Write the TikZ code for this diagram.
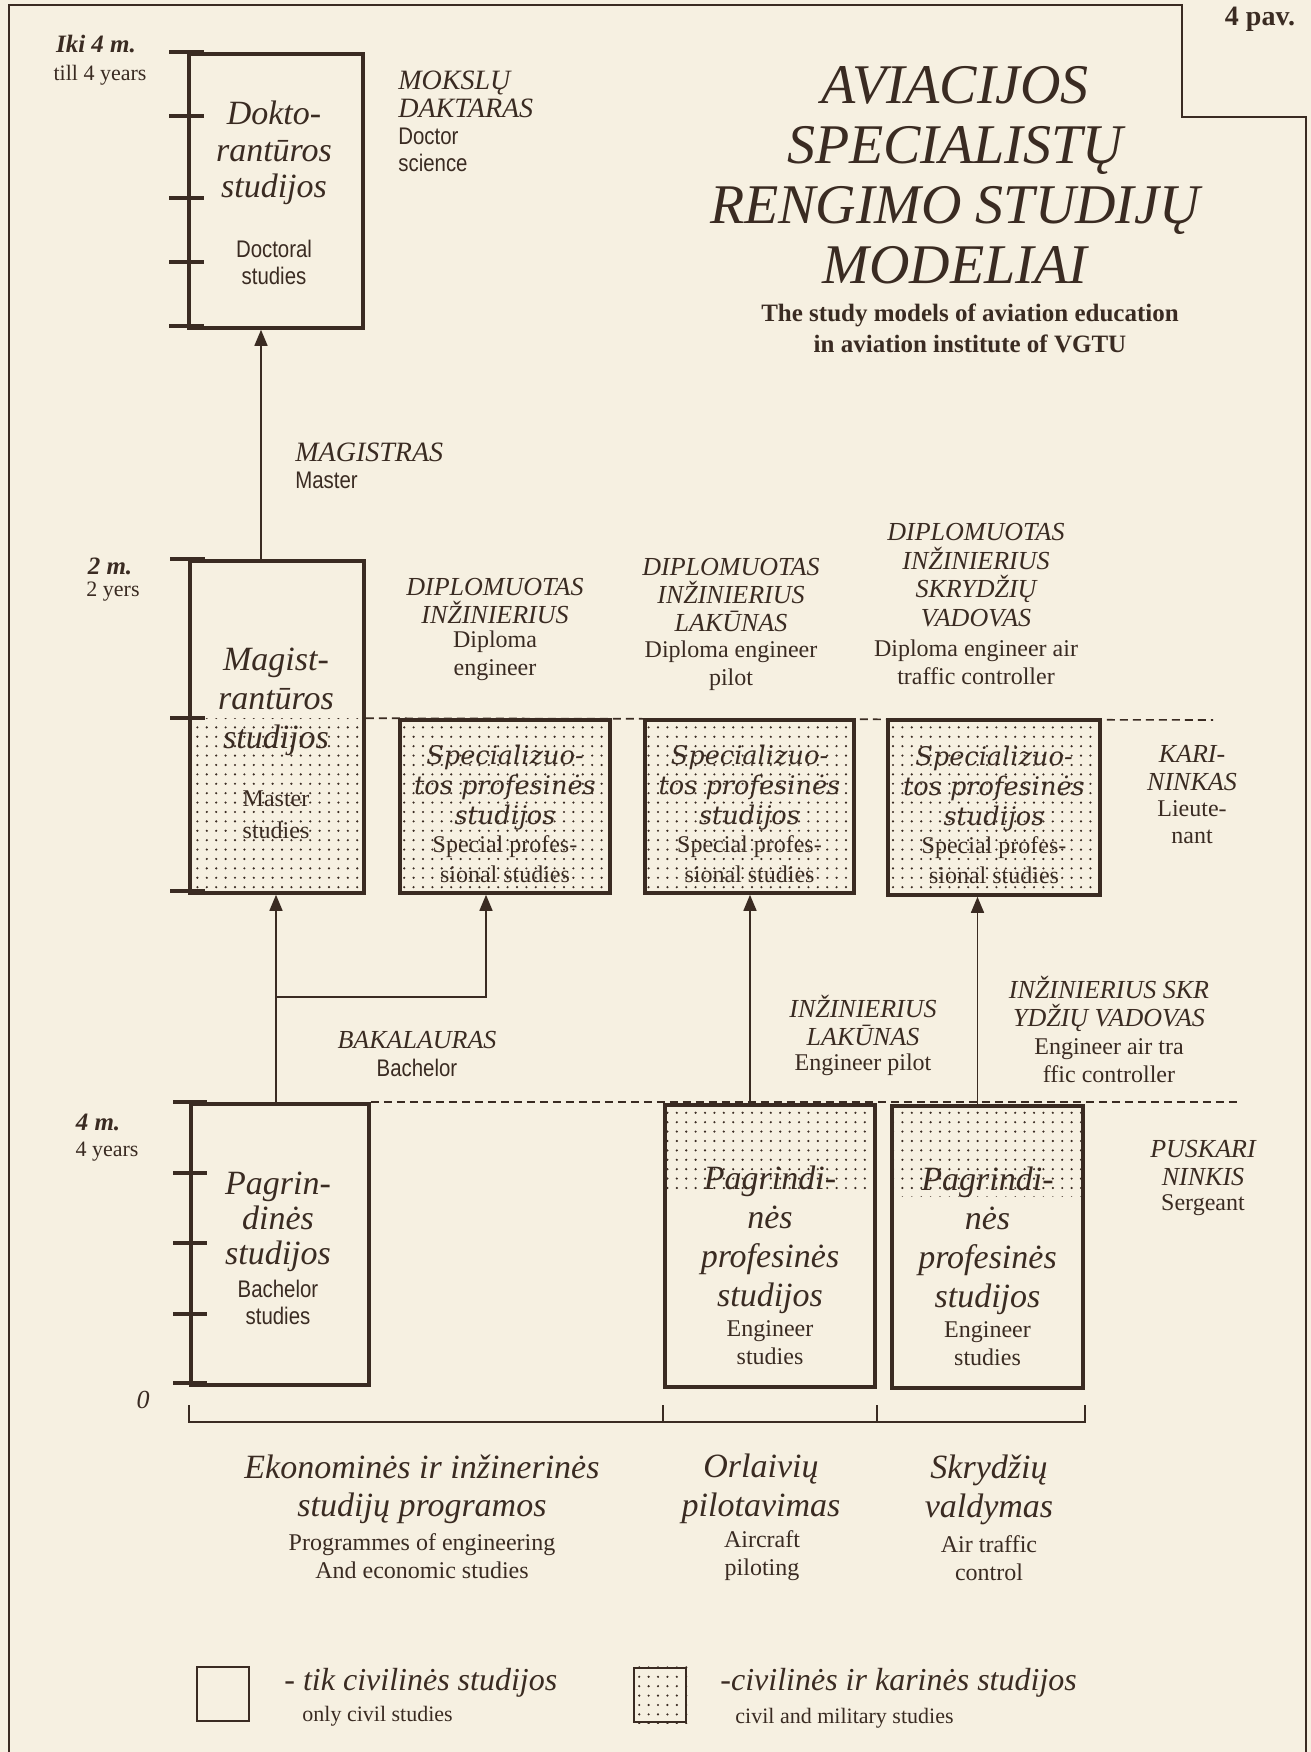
\documentclass[tikz,border=0pt]{standalone}
\usepackage{fontspec}
\setmainfont{Liberation Serif}
\newfontfamily\narrowsans[FakeStretch=0.85]{Liberation Sans}
\newfontfamily\wideserif{DejaVu Serif}
\usetikzlibrary{arrows.meta,patterns.meta,calc}
\definecolor{paper}{HTML}{F6F0E1}
\definecolor{ink}{HTML}{3A2B22}
\tikzstyle{studybox} = [rectangle, draw=ink, line width=1.8pt, fill=paper, inner sep=0pt]
\tikzstyle{timeaxis} = [draw=ink, line width=1.8pt]
\tikzstyle{link} = [draw=ink, line width=0.8pt]
\tikzstyle{uparrow} = [-{Triangle[length=8pt, width=6.5pt]}, draw=ink, line width=0.8pt]
\tikzstyle{levelline} = [draw=ink, line width=0.8pt, dash pattern=on 4pt off 2.5pt]
\tikzstyle{dotfill} = [pattern={Dots[distance=4.7pt, radius=0.6pt]}, pattern color=ink]
\tikzstyle{rank} = [inner sep=0pt, align=center, font=\fontsize{13}{14}\selectfont\itshape]
\tikzstyle{eng} = [inner sep=0pt, align=center, font=\fontsize{12}{14}\selectfont]
\tikzstyle{engsans} = [inner sep=0pt, align=center, font=\narrowsans\fontsize{12}{13.5}\selectfont]
\tikzstyle{boxtitle} = [inner sep=0pt, align=center, font=\fontsize{17}{19}\selectfont\itshape]
\tikzstyle{spectitle} = [inner sep=0pt, align=center, font=\wideserif\fontsize{12.8}{15}\selectfont\itshape]
\tikzstyle{years} = [inner sep=0pt, font=\fontsize{12.5}{14}\selectfont\bfseries\itshape]

\begin{document}
\begin{tikzpicture}[x=0.5pt, y=-0.5pt, color=ink]
\fill[paper] (0,0) rectangle (1311,1752);
\useasboundingbox (0,0) rectangle (1311,1752);
% frame
\draw[line width=1pt] (9,1752) -- (9,5) -- (1182,5) -- (1182,117) -- (1306,117) -- (1306,1752);

% title
\node[font=\fontsize{14}{16}\selectfont\bfseries] (pav) at (1260,19) {4 pav.};
\node[font=\fontsize{28}{30}\selectfont\itshape, align=center] (title) at (955,175) {AVIACIJOS\\SPECIALISTŲ\\RENGIMO STUDIJŲ\\MODELIAI};
\node[font=\fontsize{12.5}{15.5}\selectfont\bfseries, align=center] (subtitle) at (970,328) {The study models of aviation education\\in aviation institute of VGTU};

% study boxes
\node[studybox, minimum width=87pt, minimum height=137pt] (doc) at (276,191) {};
\node[studybox, minimum width=87pt, minimum height=166pt] (mag) at (277,727) {};
\node[studybox, minimum width=89pt, minimum height=140.5pt] (pagr) at (280,1244.5) {};
\node[studybox, minimum width=105pt, minimum height=86.5pt] (spec1) at (505,806.5) {};
\node[studybox, minimum width=104.5pt, minimum height=86.5pt] (spec2) at (749.5,806.5) {};
\node[studybox, minimum width=106pt, minimum height=87.5pt] (spec3) at (994,807.5) {};
\node[studybox, minimum width=105pt, minimum height=141pt] (prof1) at (770,1246) {};
\node[studybox, minimum width=95.5pt, minimum height=141pt] (prof2) at (987.5,1247) {};

% military parts
\fill[dotfill] (mag.south west) rectangle ([yshift=-79.5pt]mag.north east);
\foreach \b in {spec1,spec2,spec3}
  \fill[dotfill] (\b.south west) rectangle (\b.north east);
\foreach \b in {prof1,prof2}
  \fill[dotfill] (\b.north west) rectangle ([yshift=-46pt]\b.north east);

% time scales
\foreach \t in {0,32,73,105,137}
  \draw[timeaxis] ([xshift=-9pt,yshift=-\t pt]doc.north west) -- ++(17.5pt,0);
\foreach \t in {0,79.5,166}
  \draw[timeaxis] ([xshift=-9pt,yshift=-\t pt]mag.north west) -- ++(17.5pt,0);
\foreach \t in {0,35.5,70.5,106,140.5}
  \draw[timeaxis] ([xshift=-8pt,yshift=-\t pt]pagr.north west) -- ++(17pt,0);

% levels
\coordinate (karilevel) at (1213,720);
\coordinate (puslevel) at (1239,1106);
\draw[levelline] ([yshift=-79.5pt]mag.north east) -- (karilevel);
\draw[levelline] (pagr.north east) -- (pagr.north east -| puslevel);

% connections
\coordinate (fork) at (276,997);
\draw[uparrow] ([xshift=-2pt]pagr.north) -- ([xshift=-2pt]pagr.north |- mag.south);
\draw[uparrow] (fork) -| ([xshift=-9.5pt]spec1.south);
\draw[uparrow] ([xshift=-8pt]mag.north) -- ([xshift=-8pt]mag.north |- doc.south);
\draw[uparrow] ([xshift=-10pt]prof1.north) -- ([xshift=-10pt]prof1.north |- spec2.south);
\draw[uparrow] ([xshift=-5pt]prof2.north) -- ([xshift=-5pt]prof2.north |- spec3.south);

% programmes bracket
\draw[link] (pagr.south west |- 0,1405) |- (prof2.south east |- 0,1422) -- (prof2.south east |- 0,1405);
\draw[link] (prof1.south west |- 0,1405) -- (prof1.south west |- 0,1422);
\draw[link] (prof1.south east |- 0,1405) -- (prof1.south east |- 0,1422);

% scale labels
\node[years] (iki) at (96,44) {Iki 4 m.};
\node[eng, font=\fontsize{11}{13}\selectfont] (till) at (100,75) {till 4 years};
\node[years] (two) at (110,566) {2 m.};
\node[eng, font=\fontsize{11}{13}\selectfont] (twoy) at (113,592) {2 yers};
\node[years] (four) at (98,1122) {4 m.};
\node[eng, font=\fontsize{11}{13}\selectfont] (foury) at (107,1152) {4 years};
\node[years, font=\fontsize{13}{14}\selectfont\itshape] (zero) at (143,1400) {0};

% box texts
\node[boxtitle, font=\fontsize{17}{18.3}\selectfont\itshape] (doctxt) at (274,153) {Dokto-\\rantūros\\studijos};
\node[engsans] (docen) at (274,262) {Doctoral\\studies};
\node[boxtitle, font=\fontsize{17}{19.5}\selectfont\itshape] (magtxt) at (276,702) {Magist-\\rantūros\\studijos};
\node[eng, font=\fontsize{12}{16}\selectfont] (magen) at (276,815) {Master\\studies};
\node[boxtitle, font=\fontsize{17}{17.5}\selectfont\itshape] (pagrtxt) at (278,1222) {Pagrin-\\dinės\\studijos};
\node[engsans] (pagren) at (278,1302.5) {Bachelor\\studies};
\foreach \b in {spec1,spec2,spec3} {
  \node[spectitle] (\b-lt) at ([yshift=9.5pt]\b.center) {Specializuo-\\tos profesinės\\studijos};
  \node[eng, font=\fontsize{12}{15}\selectfont] (\b-en) at ([yshift=-26.5pt]\b.center) {Special profes-\\sional studies};
}
\foreach \b in {prof1,prof2} {
  \node[boxtitle, font=\fontsize{17}{19.4}\selectfont\itshape] (\b-lt) at ([yshift=3pt]\b.center) {Pagrindi-\\nės\\profesinės\\studijos};
  \node[eng] (\b-en) at ([yshift=-48.25pt]\b.center) {Engineer\\studies};
}

% degrees
\node[rank, anchor=west, align=left, font=\fontsize{14}{14}\selectfont\itshape] (mokslu) at (398,94) {MOKSLŲ\\DAKTARAS};
\node[engsans, anchor=west, align=left] (doctor) at (398,150) {Doctor\\science};
\node[rank, anchor=west, font=\fontsize{14}{14}\selectfont\itshape] (magistras) at (295,452) {MAGISTRAS};
\node[engsans, anchor=west] (master) at (295,480) {Master};
\node[rank] (dipl1) at (495,601.5) {DIPLOMUOTAS\\INŽINIERIUS};
\node[eng] (dipl1en) at (495,656) {Diploma\\engineer};
\node[rank] (dipl2) at (731,595) {DIPLOMUOTAS\\INŽINIERIUS\\LAKŪNAS};
\node[eng] (dipl2en) at (731,666) {Diploma engineer\\pilot};
\node[rank, font=\fontsize{13}{14.4}\selectfont\itshape] (dipl3) at (976,575) {DIPLOMUOTAS\\INŽINIERIUS\\SKRYDŽIŲ\\VADOVAS};
\node[eng] (dipl3en) at (976,662.5) {Diploma engineer air\\traffic controller};
\node[rank] (kari) at (1192,768) {KARI-\\NINKAS};
\node[eng, font=\fontsize{12}{13.5}\selectfont] (karien) at (1192,822) {Lieute-\\nant};
\node[rank] (bak) at (417,1040) {BAKALAURAS};
\node[engsans] (baken) at (417,1068) {Bachelor};
\node[rank] (inzlak) at (863,1020) {INŽINIERIUS\\LAKŪNAS};
\node[eng] (inzlaken) at (863,1065) {Engineer pilot};
\node[rank] (inzskr) at (1109,1004) {INŽINIERIUS SKR\\YDŽIŲ VADOVAS};
\node[eng] (inzskren) at (1109,1061) {Engineer air tra\\ffic controller};
\node[rank] (pusk) at (1203,1163) {PUSKARI\\NINKIS};
\node[eng] (pusken) at (1203,1205) {Sergeant};

% programmes
\node[boxtitle, font=\fontsize{17}{19.2}\selectfont\itshape] (ekon) at (422,1489) {Ekonominės ir inžinerinės\\studijų programos};
\node[eng] (ekonen) at (422,1556) {Programmes of engineering\\And economic studies};
\node[boxtitle, font=\fontsize{17}{19.2}\selectfont\itshape] (orl) at (761,1489) {Orlaivių\\pilotavimas};
\node[eng] (orlen) at (762,1556) {Aircraft\\piloting};
\node[boxtitle, font=\fontsize{17}{19.2}\selectfont\itshape] (skr) at (989,1490) {Skrydžių\\valdymas};
\node[eng] (skren) at (989,1558) {Air traffic\\control};

% legend
\node[studybox, line width=1.3pt, minimum width=26pt, minimum height=27pt] (civil) at (223,1694) {};
\node[boxtitle, anchor=west, font=\fontsize{16}{18}\selectfont\itshape] (civiltxt) at (284,1683) {- tik civilinės studijos};
\node[eng, anchor=west, font=\fontsize{11}{13}\selectfont] (civilen) at (302,1716) {only civil studies};
\node[studybox, line width=1.3pt, minimum width=26pt, minimum height=27pt] (mixed) at (660,1695) {};
\fill[dotfill] (mixed.south west) rectangle (mixed.north east);
\node[boxtitle, anchor=west, font=\fontsize{16}{18}\selectfont\itshape] (mixedtxt) at (720,1683) {-civilinės ir karinės studijos};
\node[eng, anchor=west, font=\fontsize{11}{13}\selectfont] (mixeden) at (735,1718) {civil and military studies};
\end{tikzpicture}
\end{document}
